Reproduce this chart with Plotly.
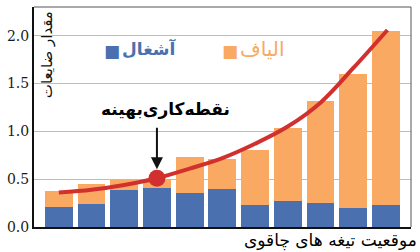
import plotly.graph_objects as go

positions = [0, 1, 2, 3, 4, 5, 6, 7, 8, 9, 10]
waste = [0.21, 0.24, 0.39, 0.41, 0.36, 0.40, 0.23, 0.27, 0.25, 0.20, 0.23]
fiber = [0.17, 0.21, 0.10, 0.09, 0.37, 0.31, 0.58, 0.77, 1.07, 1.40, 1.82]

curve_x = [0, 1, 2, 3, 4, 5, 6, 7, 8, 9, 10.05]
curve_y = [0.36, 0.39, 0.44, 0.51, 0.61, 0.72, 0.87, 1.05, 1.30, 1.66, 2.06]

opt_x = [3]
opt_y = [0.51]

y_ticks = [0.0, 0.5, 1.0, 1.5, 2.0]
y_tick_labels = ["0.0", "0.5", "1.0", "1.5", "2.0"]

BLUE = "#4a70b0"
ORANGE = "#f9a962"
RED = "#d2302e"
AR_FONT = "DejaVu Sans"

fig = go.Figure()
fig.add_trace(go.Bar(x=positions, y=waste, marker=dict(color=BLUE, line=dict(width=0)), name="آشغال"))
fig.add_trace(go.Bar(x=positions, y=fiber, marker=dict(color=ORANGE, line=dict(width=0)), name="الیاف"))
fig.add_trace(go.Scatter(x=curve_x, y=curve_y, mode="lines", line=dict(color=RED, width=4, shape="spline"),
                         hoverinfo="skip"))
fig.add_trace(go.Scatter(x=opt_x, y=opt_y, mode="markers", marker=dict(color=RED, size=17, line=dict(width=0))))

fig.update_layout(
    width=420, height=252,
    margin=dict(l=31, r=9, t=7, b=25),
    barmode="stack", bargap=0.15,
    showlegend=False,
    plot_bgcolor="white", paper_bgcolor="white",
    xaxis=dict(range=[-0.76, 10.77], showticklabels=False, showgrid=False, zeroline=False,
               showline=True, linecolor="#111111", linewidth=2, ticks=""),
    yaxis=dict(range=[0, 2.30], tickvals=y_ticks, ticktext=y_tick_labels,
               showgrid=True, gridcolor="#bdbdbd", gridwidth=1, zeroline=False,
               showline=True, linecolor="#111111", linewidth=2, ticks="",
               tickfont=dict(family="DejaVu Serif", size=14, color="#1a1a1a")),
    shapes=[
        dict(type="line", xref="paper", yref="paper", x0=0, x1=1, y0=1, y1=1, line=dict(color="#555555", width=1)),
        dict(type="line", xref="paper", yref="paper", x0=1, x1=1, y0=0, y1=1, line=dict(color="#555555", width=1)),
    ],
    annotations=[
        dict(text="مقدار ضایعات", xref="paper", yref="paper", x=0.004, y=0.99, xanchor="left", yanchor="top",
             textangle=-90, showarrow=False, font=dict(family=AR_FONT, size=15, color="#111111")),
        dict(text="■", xref="paper", yref="paper", x=0.18, y=0.80, xanchor="left", yanchor="middle",
             showarrow=False, font=dict(family=AR_FONT, size=17, color=BLUE)),
        dict(text="<b>آشغال</b>", xref="paper", yref="paper", x=0.228, y=0.81, xanchor="left", yanchor="middle",
             showarrow=False, font=dict(family=AR_FONT, size=17, color=BLUE)),
        dict(text="■", xref="paper", yref="paper", x=0.494, y=0.80, xanchor="left", yanchor="middle",
             showarrow=False, font=dict(family=AR_FONT, size=17, color=ORANGE)),
        dict(text="الیاف", xref="paper", yref="paper", x=0.542, y=0.81, xanchor="left", yanchor="middle",
             showarrow=False, font=dict(family=AR_FONT, size=20, color=ORANGE)),
        dict(text="<b>نقطه‌کاری‌بهینه</b>", xref="paper", yref="paper", x=0.35, y=0.535, xanchor="center",
             yanchor="middle", showarrow=False, font=dict(family=AR_FONT, size=17, color="#000000")),
        dict(x=3, y=0.51, xref="x", yref="y", text="", showarrow=True, arrowhead=2, arrowsize=1.2,
             arrowwidth=2, arrowcolor="#111111", ax=0, ay=-52, standoff=9),
        dict(text="موقعیت تیغه های چاقوی", xref="paper", yref="paper", x=1.02, y=-0.005,
             xanchor="right", yanchor="top", showarrow=False,
             font=dict(family=AR_FONT, size=17, color="#000000")),
    ],
)

fig.write_html("out.html")
